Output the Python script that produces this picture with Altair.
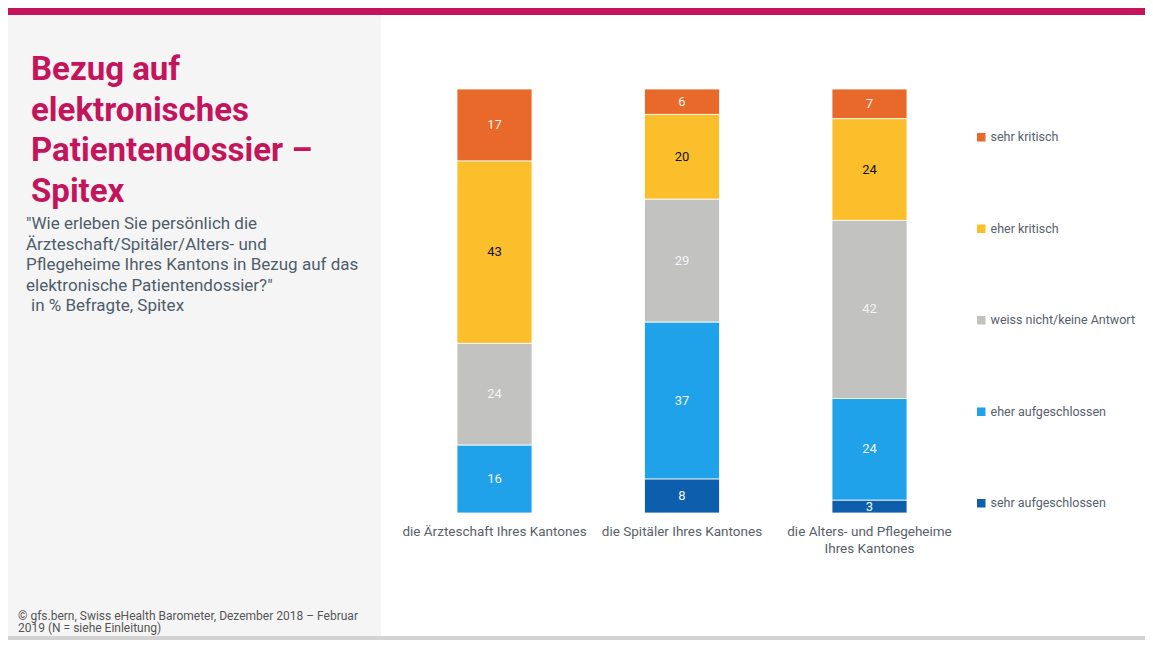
import altair as alt
import pandas as pd

FONT = "Roboto"

categories = [
    "die Ärzteschaft Ihres Kantones",
    "die Spitäler Ihres Kantones",
    "die Alters- und Pflegeheime Ihres Kantones",
]
category_labels = [
    "die Ärzteschaft Ihres Kantones",
    "die Spitäler Ihres Kantones",
    "die Alters- und Pflegeheime\nIhres Kantones",
]
responses = [
    "sehr kritisch",
    "eher kritisch",
    "weiss nicht/keine Antwort",
    "eher aufgeschlossen",
    "sehr aufgeschlossen",
]
response_colors = ["#E8692A", "#FBBF2B", "#C2C2C0", "#1FA2EA", "#0D5FAD"]

sehr_kritisch = [17, 6, 7]
eher_kritisch = [43, 20, 24]
weiss_nicht = [24, 29, 42]
eher_aufgeschlossen = [16, 37, 24]
sehr_aufgeschlossen = [0, 8, 3]

title_lines = ["Bezug auf", "elektronisches", "Patientendossier  –", "Spitex"]
subtitle_lines = [
    "\"Wie erleben Sie persönlich die",
    "Ärzteschaft/Spitäler/Alters- und",
    "Pflegeheime Ihres Kantons in Bezug auf das",
    "elektronische Patientendossier?\"",
]
subtitle_note = "in % Befragte, Spitex"
footer_lines = [
    "© gfs.bern, Swiss eHealth Barometer, Dezember 2018 – Februar",
    "2019 (N = siehe Einleitung)",
]

series = [sehr_kritisch, eher_kritisch, weiss_nicht, eher_aufgeschlossen, sehr_aufgeschlossen]
rows = []
for r, (resp, vals) in enumerate(zip(responses, series)):
    for c, v in zip(categories, vals):
        if v > 0:
            rows.append({"category": c, "response": resp, "value": v, "order": len(responses) - 1 - r})
df = pd.DataFrame(rows)

xscale = alt.Scale(domain=categories, range=[392.75, 955.25], paddingInner=0.6, paddingOuter=0.3)
yscale = alt.Scale(domain=[0, 100], range=[505, 81], nice=False, zero=True)

one = pd.DataFrame({"a": [0]})

panel = alt.Chart(one).mark_rect(color="#F5F5F5").encode(
    x=alt.value(0), x2=alt.value(373), y=alt.value(7), y2=alt.value(628)
)
topbar = alt.Chart(one).mark_rect(color="#C4145C").encode(
    x=alt.value(0), x2=alt.value(1137), y=alt.value(0), y2=alt.value(7)
)
bottombar = alt.Chart(one).mark_rect(color="#D3D3D3").encode(
    x=alt.value(0), x2=alt.value(1137), y=alt.value(628), y2=alt.value(632)
)

title = alt.Chart(pd.DataFrame({"t": ["\n".join(title_lines)]})).mark_text(
    align="left", baseline="alphabetic", lineBreak="\n", font=FONT, fontSize=33,
    fontWeight="bold", color="#C4145C", lineHeight=40.5
).encode(x=alt.value(23), y=alt.value(72), text="t:N")

subtitle = alt.Chart(pd.DataFrame({"t": ["\n".join(subtitle_lines)]})).mark_text(
    align="left", baseline="alphabetic", lineBreak="\n", font=FONT, fontSize=17,
    color="#4E5D6C", lineHeight=20.6
).encode(x=alt.value(18), y=alt.value(221), text="t:N")

subnote = alt.Chart(pd.DataFrame({"t": [subtitle_note]})).mark_text(
    align="left", baseline="alphabetic", font=FONT, fontSize=17, color="#4E5D6C"
).encode(x=alt.value(23), y=alt.value(221 + 4 * 20.6), text="t:N")

footer = alt.Chart(pd.DataFrame({"t": ["\n".join(footer_lines)]})).mark_text(
    align="left", baseline="alphabetic", lineBreak="\n", font=FONT, fontSize=12,
    color="#555555", lineHeight=12
).encode(x=alt.value(10), y=alt.value(612), text="t:N")

bars = alt.Chart(df).mark_bar(stroke="white", strokeWidth=0.8).encode(
    x=alt.X("category:N", sort=categories, scale=xscale, axis=None),
    y=alt.Y("value:Q", stack="zero", scale=yscale, axis=None),
    color=alt.Color(
        "response:N",
        scale=alt.Scale(domain=responses, range=response_colors),
        legend=alt.Legend(
            title=None, orient="none", legendX=967, legendY=123, direction="vertical",
            symbolType="square", symbolSize=72, symbolStrokeWidth=0,
            labelFont=FONT, labelFontSize=12.5, labelColor="#58616B",
            labelOffset=3, rowPadding=78.5, padding=0, labelLimit=300,
        ),
    ),
    order=alt.Order("order:Q", sort="ascending"),
)

labels = alt.Chart(df).transform_stack(
    stack="value", as_=["v0", "v1"], groupby=["category"],
    sort=[alt.SortField("order", "ascending")]
).transform_calculate(mid="(datum.v0 + datum.v1) / 2").mark_text(
    font=FONT, fontSize=13, baseline="middle"
).encode(
    x=alt.X("category:N", sort=categories, scale=xscale, axis=None),
    y=alt.Y("mid:Q", scale=yscale, axis=None),
    text="value:Q",
    color=alt.condition("datum.response == 'eher kritisch'", alt.value("#111111"), alt.value("#F4F4F4")),
)

cat_df = pd.DataFrame({"category": categories, "label": category_labels})
cat_text = alt.Chart(cat_df).mark_text(
    baseline="top", lineBreak="\n", font=FONT, fontSize=13.5, color="#58616B", lineHeight=17
).encode(
    x=alt.X("category:N", sort=categories, scale=xscale, axis=None),
    y=alt.value(517),
    text="label:N",
)

chart = alt.layer(
    panel, topbar, bottombar, title, subtitle, subnote, footer, bars, labels, cat_text
).properties(
    width=1137, height=632, padding=0, autosize=alt.AutoSizeParams(type="none")
).configure_view(stroke=None)

chart.save("out.html", embed_options={"renderer": "svg", "actions": False})
